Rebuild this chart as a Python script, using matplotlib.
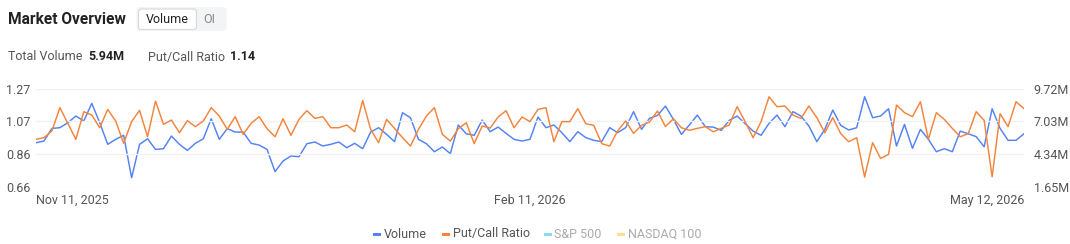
import matplotlib
matplotlib.use("Agg")
import matplotlib.pyplot as plt
from matplotlib.patches import FancyBboxPatch, Rectangle
from matplotlib.transforms import IdentityTransform

plt.rcParams['font.family'] = ['Roboto', 'DejaVu Sans']

# ---- data ----
x_tick_labels = ["Nov 11, 2025", "Feb 11, 2026", "May 12, 2026"]
x_tick_index = [0, 62, 124]

put_call_ratio = [
    0.955, 0.965, 1.007, 1.152, 1.054, 0.955, 1.127, 1.106, 1.027, 1.141,
    1.069, 0.930, 1.065, 1.135, 0.971, 1.193, 1.048, 1.075, 0.996, 1.071,
    1.034, 1.069, 1.152, 1.100, 1.017, 1.096, 0.986, 1.054, 1.096, 1.021,
    0.971, 1.083, 0.980, 1.079, 1.133, 1.085, 1.096, 1.027, 1.027, 1.044,
    1.002, 1.197, 1.017, 0.934, 1.079, 1.023, 0.965, 0.913, 1.017, 1.100,
    1.152, 0.986, 0.944, 1.021, 1.058, 0.928, 1.038, 1.025, 1.094, 1.133,
    1.027, 1.094, 1.065, 1.141, 1.152, 0.940, 1.065, 1.065, 1.146, 1.052,
    1.042, 0.928, 0.913, 1.007, 1.069, 0.992, 1.042, 1.063, 1.131, 1.034,
    1.083, 1.027, 1.011, 1.023, 1.034, 1.002, 1.023, 1.044, 1.158, 1.065,
    0.965, 1.065, 1.220, 1.158, 1.162, 1.106, 1.085, 1.162, 1.090, 0.996,
    1.090, 0.990, 0.940, 0.965, 0.720, 0.934, 0.836, 0.861, 1.168, 1.121,
    1.096, 1.189, 0.955, 1.121, 1.079, 1.023, 0.971, 0.990, 1.127, 1.073,
    0.722, 1.114, 1.034, 1.189, 1.146,
]

volume_m = [
    5.27, 5.41, 6.45, 6.51, 6.92, 7.47, 7.06, 8.51, 6.92, 5.14,
    5.55, 5.88, 2.39, 5.14, 5.60, 4.72, 4.78, 5.82, 5.14, 4.64,
    5.22, 5.60, 7.25, 5.55, 6.43, 6.15, 6.15, 5.22, 5.08, 4.72,
    2.89, 3.76, 4.18, 4.12, 5.19, 5.33, 5.00, 5.14, 5.33, 4.86,
    5.22, 4.78, 6.15, 6.51, 5.96, 5.36, 7.74, 7.33, 5.55, 5.19,
    4.53, 4.92, 4.37, 6.73, 6.01, 5.88, 7.14, 6.18, 6.56, 6.04,
    5.55, 5.41, 5.55, 7.39, 6.51, 6.73, 6.10, 5.36, 6.18, 5.69,
    5.47, 5.36, 6.51, 6.10, 6.51, 7.83, 6.37, 7.28, 7.52, 8.29,
    7.19, 5.96, 6.73, 7.55, 6.59, 6.56, 6.29, 7.11, 7.47, 6.84,
    6.23, 5.88, 6.87, 7.55, 6.59, 7.83, 7.47, 6.65, 5.36, 6.37,
    7.96, 6.70, 6.32, 6.51, 9.06, 7.33, 7.47, 8.07, 5.00, 6.78,
    4.81, 6.37, 5.55, 4.53, 4.78, 4.53, 6.23, 6.01, 5.77, 4.94,
    8.07, 6.45, 5.47, 5.47, 6.01,
]

left_ticks = [0.66, 0.8633, 1.0667, 1.27]
left_tick_labels = ["0.66", "0.86", "1.07", "1.27"]
right_ticks = [1.65, 4.34, 7.03, 9.72]
right_tick_labels = ["1.65M", "4.34M", "7.03M", "9.72M"]

legend_labels = ["Volume", "Put/Call Ratio", "S&P 500", "NASDAQ 100"]

# ---- style ----
BLUE = "#5282f5"
ORANGE = "#f5843a"
CYAN = "#86dcef"
YELLOW = "#fbe08e"
TXT = "#555555"
GRID = "#f2f2f2"

W, H = 1070, 244
fig = plt.figure(figsize=(W / 100, H / 100), dpi=100)
fig.patch.set_facecolor("white")

def fy(y):
    return 1 - y / H

def fx(x):
    return x / W

# header
fig.text(fx(8), fy(19), "Market Overview", fontsize=11.2, fontweight="bold",
         color="#222222", va="center", ha="left")
px = IdentityTransform()
fig.patches.append(FancyBboxPatch((136.5, H - 31), 90, 24,
                                  boxstyle="round,pad=0,rounding_size=3",
                                  facecolor="#f3f4f6", edgecolor="none",
                                  transform=px, figure=fig))
fig.patches.append(FancyBboxPatch((138.5, H - 29.5), 58, 20.5,
                                  boxstyle="round,pad=0,rounding_size=3",
                                  facecolor="white", edgecolor="#d9d9d9",
                                  linewidth=0.8, transform=px, figure=fig))
fig.text(fx(167.5), fy(19.5), "Volume", fontsize=9, color="#222222",
         va="center", ha="center")
fig.text(fx(209), fy(19.5), "OI", fontsize=9, color="#888888",
         va="center", ha="center")

fig.text(fx(8), fy(57), "Total Volume", fontsize=9, color=TXT, va="center")
fig.text(fx(88), fy(57), "5.94M", fontsize=9, color="#222222",
         fontweight="bold", va="center")
fig.text(fx(148), fy(57), "Put/Call Ratio", fontsize=9, color=TXT, va="center")
fig.text(fx(230), fy(57), "1.14", fontsize=9, color="#222222",
         fontweight="bold", va="center")

# axes
top, bottom = 88.7, 186.7
ax = fig.add_axes([fx(36), fy(bottom), fx(1024) - fx(36), (bottom - top) / H])
ax2 = ax.twinx()

xs = list(range(len(put_call_ratio)))
ax2.plot(xs, volume_m, color=BLUE, lw=1.05, zorder=3)
ax.plot(xs, put_call_ratio, color=ORANGE, lw=1.05, zorder=4)

ax.set_xlim(0, len(xs) - 1)
ax.set_ylim(0.66, 1.27)
ax2.set_ylim(1.65, 9.72)
ax.set_zorder(ax2.get_zorder() + 1)
ax.patch.set_visible(False)

ax.set_yticks(left_ticks)
ax.set_yticklabels(left_tick_labels)
ax2.set_yticks(right_ticks)
ax2.set_yticklabels(right_tick_labels)
ax.set_xticks(x_tick_index)
ax.set_xticklabels(x_tick_labels)
hal = ["left", "center", "right"]
for lab, h in zip(ax.get_xticklabels(), hal):
    lab.set_ha(h)

for a in (ax, ax2):
    for s in a.spines.values():
        s.set_visible(False)
ax.tick_params(axis="both", length=0, labelsize=9, labelcolor=TXT)
ax.tick_params(axis="y", pad=4)
ax.tick_params(axis="x", pad=5)
ax2.tick_params(axis="y", length=0, labelsize=9, labelcolor=TXT, pad=7)

for t in left_ticks:
    ax.axhline(t, color=GRID, lw=1.0, zorder=0)

# legend
items = [
    (373, 384, legend_labels[0], BLUE, "#555555"),
    (442, 453, legend_labels[1], ORANGE, "#555555"),
    (544, 554, legend_labels[2], CYAN, "#aaaaaa"),
    (617, 628, legend_labels[3], YELLOW, "#aaaaaa"),
]
ly = 234
for x0, xt, lab, col, tcol in items:
    fig.patches.append(Rectangle((x0, H - ly - 1.5), 8, 3, facecolor=col,
                                 edgecolor="none", transform=px, figure=fig))
    fig.text(fx(xt), fy(ly), lab, fontsize=9, color=tcol, va="center",
             ha="left")

fig.savefig("out.png", dpi=100, facecolor="white")
